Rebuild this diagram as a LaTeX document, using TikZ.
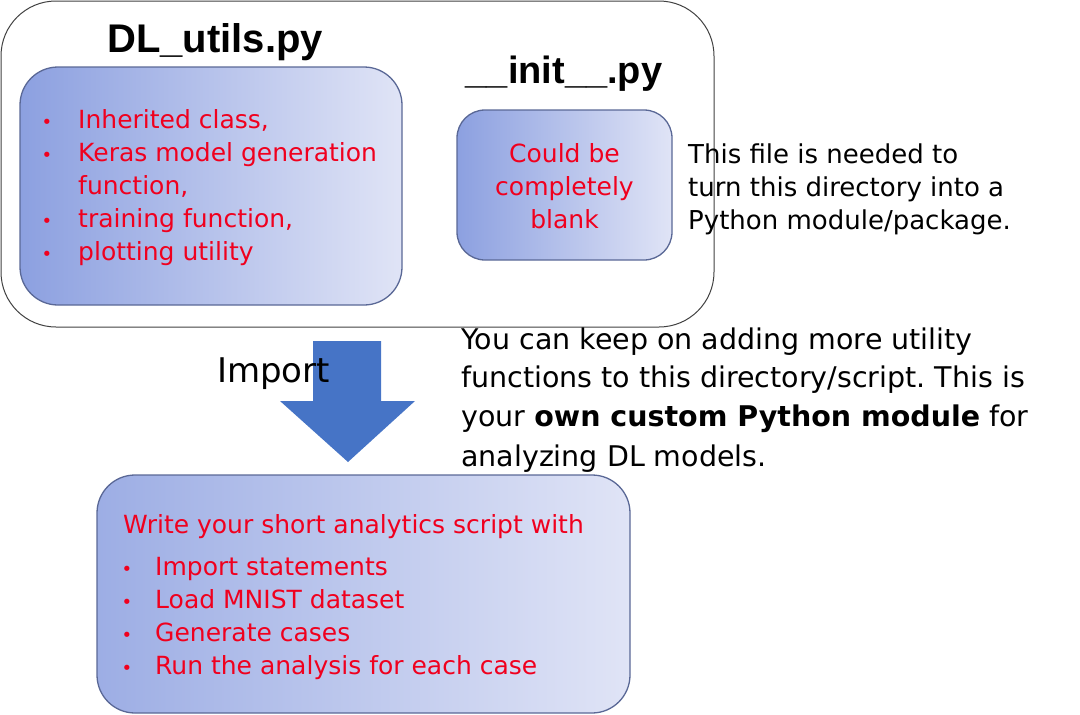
\documentclass[tikz,border=0pt]{standalone}
\usepackage{fontspec}
\setmainfont{DejaVu Sans}
\newfontfamily\titlefont{Liberation Sans}
\definecolor{txtred}{RGB}{240,0,30}
\definecolor{boxleft}{RGB}{140,160,224}
\definecolor{boxright}{RGB}{224,228,246}
\definecolor{boxedge}{RGB}{90,104,150}
\definecolor{arrowblue}{RGB}{70,116,198}
\frenchspacing
\begin{document}
\begin{tikzpicture}[x=1pt,y=-1pt,
  panel/.style={draw=boxedge,line width=1.3pt,rounded corners=38pt,left color=boxleft,right color=boxright,inner sep=0pt},
  title/.style={font=\titlefont\bfseries\fontsize{38}{40}\selectfont,anchor=base},
  redtxt/.style={text=txtred,font=\fontsize{25}{28}\selectfont,anchor=base west,inner sep=0pt},
  blktxt/.style={text=black,font=\fontsize{26}{28}\selectfont,anchor=base west,inner sep=0pt},
  modtxt/.style={blktxt,font=\fontsize{28.5}{30}\selectfont},
  dot/.style={text=txtred,font=\fontsize{18}{20}\selectfont,anchor=base,inner sep=0pt}]
\useasboundingbox (0,0) rectangle (1080,715);
% outer directory box
\draw[draw=black!75,line width=1pt,rounded corners=55pt] (1,1) rectangle (714,327);
\node[title,font=\titlefont\bfseries\fontsize{40}{42}\selectfont] (dltitle) at (215,52) {DL\_utils.py};
\node[title] (inittitle) at (564,83) {\_\_init\_\_.py};
% DL utils panel
\node[panel,minimum width=382pt,minimum height=238pt] (dlbox) at (211,186) {};
\node[dot] (d1) at (47,128) {•};
\node[redtxt] (i1) at (78,128) {Inherited class,};
\node[dot] (d2) at (47,161) {•};
\node[redtxt] (i2) at (78,161) {Keras model generation};
\node[redtxt] (i3) at (78,194) {function,};
\node[dot] (d4) at (47,227) {•};
\node[redtxt] (i4) at (78,227) {training function,};
\node[dot] (d5) at (47,260) {•};
\node[redtxt] (i5) at (78,260) {plotting utility};
% init panel
\node[panel,rounded corners=28pt,minimum width=215pt,minimum height=150pt] (initbox) at (564.5,185) {};
\node[redtxt,anchor=base] (c1) at (564.5,162) {Could be};
\node[redtxt,anchor=base] (c2) at (564.5,195) {completely};
\node[redtxt,anchor=base] (c3) at (564.5,228) {blank};
% side note
\node[blktxt] (n1) at (688,163) {This file is needed to};
\node[blktxt] (n2) at (688,196) {turn this directory into a};
\node[blktxt] (n3) at (688,229) {Python module/package.};
% arrow
\coordinate (a1) at (313,341);
\coordinate (a2) at (381,341);
\coordinate (a3) at (381,401);
\coordinate (a4) at (415,401);
\coordinate (tip) at (348,462);
\coordinate (a6) at (280,401);
\coordinate (a7) at (313,401);
\fill[arrowblue] (a1) -- (a2) -- (a3) -- (a4) -- (tip) -- (a6) -- (a7) -- cycle;
\node[blktxt,font=\fontsize{34}{36}\selectfont] (imp) at (217,382) {Import};
% module note
\node[modtxt] (m1) at (461,349) {You can keep on adding more utility};
\node[modtxt] (m2) at (461,387) {functions to this directory/script. This is};
\node[modtxt] (m3) at (461,426) {your \textbf{own custom Python module} for};
\node[modtxt] (m4) at (461,466) {analyzing DL models.};
% script panel
\node[panel,minimum width=533pt,minimum height=238pt,left color=boxleft!80!boxright] (scbox) at (363.5,594) {};
\node[redtxt] (s0) at (123,533) {Write your short analytics script with};
\node[dot] (e1) at (127,575) {•};
\node[redtxt] (s1) at (155,575) {Import statements};
\node[dot] (e2) at (127,608) {•};
\node[redtxt] (s2) at (155,608) {Load MNIST dataset};
\node[dot] (e3) at (127,641) {•};
\node[redtxt] (s3) at (155,641) {Generate cases};
\node[dot] (e4) at (127,674) {•};
\node[redtxt] (s4) at (155,674) {Run the analysis for each case};
\end{tikzpicture}
\end{document}
